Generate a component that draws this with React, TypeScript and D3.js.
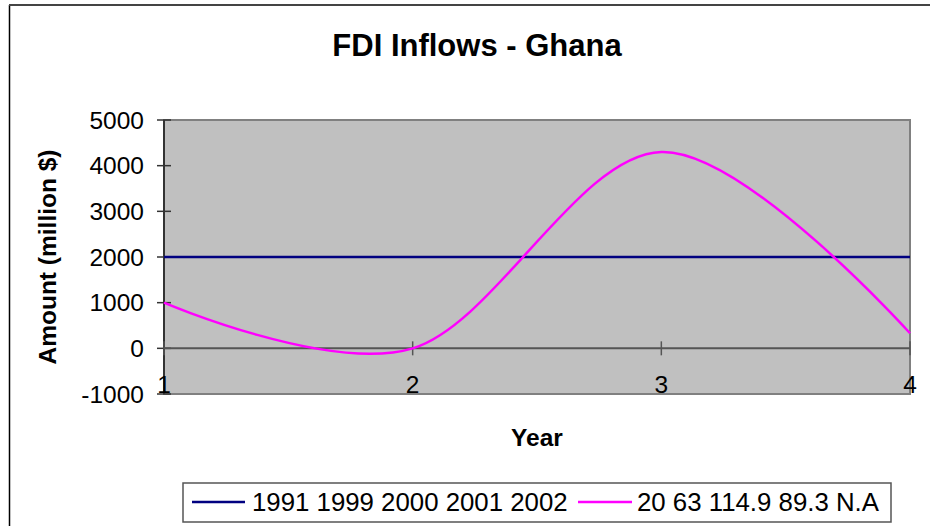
import React from "react";
import * as d3 from "d3";

const categories = [1, 2, 3, 4];
const seriesYears = [2000, 2000, 2000, 2000];
const seriesFDI = [1000, 0, 4300, 330];
const yTicks = [-1000, 0, 1000, 2000, 3000, 4000, 5000];
const seriesNames = ["1991 1999 2000 2001 2002", "20 63 114.9 89.3 N.A"];
const seriesColors = ["#000080", "#FF00FF"];

const W = 930;
const H = 526;
const plot = { left: 164, right: 910, top: 120, bottom: 394 };
const FONT = "'Liberation Sans', Arial, Helvetica, sans-serif";

export default function App() {
  const x = d3.scaleLinear().domain([1, 4]).range([plot.left, plot.right]);
  const y = d3.scaleLinear().domain([-1000, 5000]).range([plot.bottom, plot.top]);
  const line = d3
    .line<number>()
    .x((_, i) => x(categories[i]))
    .y((d) => y(d))
    .curve(d3.curveCatmullRom.alpha(0));
  const y0 = y(0);

  return (
    <div style={{ position: "absolute", left: 0, top: 0 }}>
      <svg width={W} height={H} style={{ display: "block", fontFamily: FONT }}>
        <rect x={0} y={0} width={W} height={H} fill="#fff" />
        {/* outer frame */}
        <line x1={9.5} y1={5} x2={9.5} y2={H} stroke="#000" strokeWidth={1.5} />
        <line x1={9} y1={5} x2={W} y2={5} stroke="#444" strokeWidth={2} />

        <text x={477} y={56} textAnchor="middle" fontSize={31} fontWeight="bold">
          FDI Inflows - Ghana
        </text>

        {/* plot area */}
        <rect
          x={plot.left}
          y={plot.top}
          width={plot.right - plot.left}
          height={plot.bottom - plot.top}
          fill="#C0C0C0"
          stroke="#808080"
          strokeWidth={2}
        />

        {/* y axis */}
        <line x1={plot.left} y1={plot.top} x2={plot.left} y2={plot.bottom} stroke="#333" strokeWidth={2} />
        {yTicks.map((t) => (
          <g key={t}>
            <line x1={plot.left - 7} x2={plot.left + 7} y1={y(t)} y2={y(t)} stroke="#333" strokeWidth={1.5} />
            <text x={144} y={y(t) + 8.5} textAnchor="end" fontSize={24.5}>
              {t}
            </text>
          </g>
        ))}

        {/* x axis at zero */}
        <line x1={plot.left} x2={plot.right} y1={y0} y2={y0} stroke="#555" strokeWidth={2} />
        {categories.map((c) => (
          <g key={c}>
            <line x1={x(c)} x2={x(c)} y1={y0 - 7} y2={y0 + 7} stroke="#555" strokeWidth={1.5} />
            <text x={x(c)} y={393} textAnchor="middle" fontSize={24.5}>
              {c}
            </text>
          </g>
        ))}

        {/* series */}
        <path d={line(seriesYears) || ""} fill="none" stroke={seriesColors[0]} strokeWidth={2.5} />
        <path d={line(seriesFDI) || ""} fill="none" stroke={seriesColors[1]} strokeWidth={2.5} />

        {/* axis titles */}
        <text
          transform={`translate(56, ${(plot.top + plot.bottom) / 2}) rotate(-90)`}
          textAnchor="middle"
          fontSize={24.5}
          fontWeight="bold"
        >
          Amount (million $)
        </text>
        <text x={537} y={446} textAnchor="middle" fontSize={24.5} fontWeight="bold">
          Year
        </text>

        {/* legend */}
        <rect x={183} y={483} width={708} height={39} fill="#fff" stroke="#555" strokeWidth={1.5} />
        <line x1={192} x2={245} y1={502} y2={502} stroke={seriesColors[0]} strokeWidth={2.5} />
        <text x={252} y={511} fontSize={25.8}>
          {seriesNames[0]}
        </text>
        <line x1={578} x2={632} y1={502} y2={502} stroke={seriesColors[1]} strokeWidth={2.5} />
        <text x={637} y={511} fontSize={25.8}>
          {seriesNames[1]}
        </text>
      </svg>
    </div>
  );
}
